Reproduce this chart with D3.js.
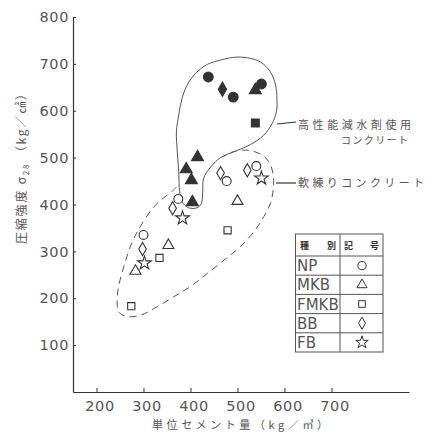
<!DOCTYPE html>
<html>
<head>
<meta charset="utf-8">
<script src="https://cdn.jsdelivr.net/npm/d3@7"></script>
<style>
  html, body { margin: 0; padding: 0; background: #fff; }
  svg { display: block; }
</style>
</head>
<body>
<svg id="chart" width="426" height="432"></svg>
<script>
// Axis ticks
const xTicks = [200, 300, 400, 500, 600, 700];
const yTicks = [100, 200, 300, 400, 500, 600, 700, 800];

// Cement types shown in the key
const types = ["NP", "MKB", "FMKB", "BB", "FB"];

// Concrete with high-range water reducer (filled marks)
const hpType     = ["NP", "BB", "NP", "MKB", "NP", "FMKB", "MKB", "MKB", "MKB", "MKB"];
const hpCement   = [438, 468, 491, 538, 551, 538, 415, 391, 402, 404];
const hpStrength = [672, 646, 629, 644, 657, 574, 501, 475, 452, 405];

// Plain (soft-mixed) concrete (open marks)
const plainType     = ["NP", "BB", "FB", "NP", "BB", "FB", "MKB", "MKB", "FMKB", "FMKB", "BB", "NP", "BB", "NP", "FB", "MKB", "FMKB"];
const plainCement   = [374, 362, 383, 300, 298, 302, 283, 353, 334, 274, 464, 477, 521, 540, 551, 500, 479];
const plainStrength = [412, 392, 371, 335, 305, 275, 258, 313, 286, 183, 467, 450, 473, 482, 456, 407, 345];

// Closed outline around the high-range water reducer group (cement, strength)
const hpOutlineCement   = [396, 414, 423, 426, 428, 443, 464, 496, 528, 556, 574, 583, 584, 581, 570, 549, 521, 492, 464, 436, 411, 393, 382, 375, 370, 372, 375, 377, 382];
const hpOutlineStrength = [393, 393, 402, 427, 456, 480, 500, 514, 528, 548, 573, 599, 626, 655, 683, 704, 713, 714, 708, 699, 680, 655, 626, 591, 555, 512, 470, 427, 406];

// Open dashed outline around the plain concrete group
const plainOutlineCement   = [370, 364, 322, 287, 272, 258, 247, 244, 247, 265, 294, 329, 364, 400, 436, 471, 506, 535, 556, 570, 576, 577, 574, 567, 553, 532, 513, 489, 468];
const plainOutlineStrength = [437, 431, 395, 342, 310, 267, 225, 196, 171, 161, 164, 182, 203, 225, 253, 281, 310, 342, 374, 402, 431, 452, 473, 491, 505, 514, 516, 512, 501];

const svg = d3.select("#chart");
const ink = "#333";
const grey = "#555";

const x = d3.scaleLinear().domain([150, 865]).range([73, 409]);
const y = d3.scaleLinear().domain([0, 800]).range([392, 17]);

const symbolOf = {
  NP: d3.symbolCircle,
  MKB: d3.symbolTriangle,
  FMKB: d3.symbolSquare,
  BB: d3.symbolDiamond,
  FB: d3.symbolStar
};
const sizeOf = { NP: 62, MKB: 52, FMKB: 52, BB: 50, FB: 58 };

// Axes
const yAxis = d3.axisLeft(y).tickValues(yTicks).tickSize(-3).tickSizeOuter(0).tickPadding(4);
const gy = svg.append("g").attr("transform", `translate(${x(150)},0)`).call(yAxis);
const xAxis = d3.axisBottom(x).tickValues(xTicks).tickSize(-4).tickSizeOuter(0).tickPadding(9);
const gx = svg.append("g").attr("transform", `translate(0,${y(0)})`).call(xAxis);

[gx, gy].forEach(g => {
  g.select(".domain").attr("stroke", ink).attr("stroke-width", 1.2);
  g.selectAll(".tick line").attr("stroke", ink).attr("stroke-width", 1);
  g.selectAll(".tick text")
    .attr("fill", grey)
    .attr("font-family", "DejaVu Sans, sans-serif")
    .attr("font-size", 14.5)
    .attr("letter-spacing", 0.6);
});
gx.selectAll(".tick text").attr("dx", 3);

// Group outlines
const outline = d3.line().x(d => x(d[0])).y(d => y(d[1]));

svg.append("path")
  .datum(d3.zip(hpOutlineCement, hpOutlineStrength))
  .attr("d", outline.curve(d3.curveCatmullRomClosed.alpha(0.5)))
  .attr("fill", "none")
  .attr("stroke", grey)
  .attr("stroke-width", 1);

svg.append("path")
  .datum(d3.zip(plainOutlineCement, plainOutlineStrength))
  .attr("d", outline.curve(d3.curveCatmullRom.alpha(0.5)))
  .attr("fill", "none")
  .attr("stroke", grey)
  .attr("stroke-width", 1)
  .attr("stroke-dasharray", "7,5");

// Points
function drawPoints(typesArr, cement, strength, filled) {
  svg.append("g").selectAll("path")
    .data(d3.range(typesArr.length))
    .join("path")
    .attr("transform", i => `translate(${x(cement[i])},${y(strength[i])})`)
    .attr("d", i => d3.symbol(symbolOf[typesArr[i]], sizeOf[typesArr[i]] * (filled ? 1.2 : 1))())
    .attr("fill", filled ? ink : "#fff")
    .attr("stroke", ink)
    .attr("stroke-width", 1.1);
}
drawPoints(plainType, plainCement, plainStrength, false);
drawPoints(hpType, hpCement, hpStrength, true);

// Callout labels
const jp = "'Noto Sans CJK JP', sans-serif";
svg.append("line").attr("x1", 277).attr("y1", 124).attr("x2", 296).attr("y2", 122)
  .attr("stroke", ink).attr("stroke-width", 1.2);
svg.append("text").attr("x", 298).attr("y", 129)
  .attr("font-family", jp).attr("font-size", 11).attr("fill", grey)
  .attr("textLength", 113).attr("lengthAdjust", "spacing")
  .text("高性能減水剤使用");
svg.append("text").attr("x", 341).attr("y", 144)
  .attr("font-family", jp).attr("font-size", 10).attr("fill", grey)
  .attr("textLength", 67).attr("lengthAdjust", "spacing")
  .text("コンクリート");

svg.append("line").attr("x1", 276).attr("y1", 183).attr("x2", 296).attr("y2", 183)
  .attr("stroke", ink).attr("stroke-width", 1.2);
svg.append("text").attr("x", 298).attr("y", 187)
  .attr("font-family", jp).attr("font-size", 11).attr("fill", grey)
  .attr("textLength", 126).attr("lengthAdjust", "spacing")
  .text("軟練りコンクリート");

// Key table
const key = svg.append("g");
const keyLeft = 295.5, keyMid = 340, keyRight = 383;
const keyTop = 234, headH = 22, rowH = 19.2;
const keyBottom = keyTop + headH + rowH * types.length;
key.append("rect").attr("x", keyLeft).attr("y", keyTop)
  .attr("width", keyRight - keyLeft).attr("height", keyBottom - keyTop)
  .attr("fill", "none").attr("stroke", grey).attr("stroke-width", 1);
key.append("line").attr("x1", keyMid).attr("x2", keyMid).attr("y1", keyTop).attr("y2", keyBottom)
  .attr("stroke", grey).attr("stroke-width", 1);
types.forEach((t, i) => {
  const top = keyTop + headH + rowH * i;
  key.append("line").attr("x1", keyLeft).attr("x2", keyRight).attr("y1", top).attr("y2", top)
    .attr("stroke", grey).attr("stroke-width", 1);
  key.append("text").attr("x", keyLeft + 1.5).attr("y", top + rowH / 2 + 5.5)
    .attr("font-family", "DejaVu Sans, sans-serif").attr("font-size", 15)
    .attr("fill", grey).text(t);
  key.append("path")
    .attr("transform", `translate(${(keyMid + keyRight) / 2 + 0.5},${top + rowH / 2})`)
    .attr("d", d3.symbol(symbolOf[t], sizeOf[t] * 0.85)())
    .attr("fill", "#fff").attr("stroke", ink).attr("stroke-width", 1);
});
key.append("text").attr("x", 300).attr("y", keyTop + 15)
  .attr("font-family", jp).attr("font-size", 9).attr("font-weight", 700).attr("fill", ink)
  .attr("textLength", 36).attr("lengthAdjust", "spacing").text("種別");
key.append("text").attr("x", 344).attr("y", keyTop + 15)
  .attr("font-family", jp).attr("font-size", 9).attr("font-weight", 700).attr("fill", ink)
  .attr("textLength", 35).attr("lengthAdjust", "spacing").text("記号");

// Axis titles
svg.append("text")
  .attr("x", 240).attr("y", 429)
  .attr("text-anchor", "middle")
  .attr("font-family", jp).attr("font-size", 11).attr("fill", grey)
  .attr("textLength", 176).attr("lengthAdjust", "spacing")
  .text("単位セメント量（kg／㎥）");

const yTitle = svg.append("text")
  .attr("transform", "translate(26,166) rotate(-90)")
  .attr("text-anchor", "middle")
  .attr("font-family", jp).attr("font-size", 12).attr("fill", grey)
  .attr("textLength", 156).attr("lengthAdjust", "spacing");
yTitle.append("tspan").text("圧縮強度 σ");
yTitle.append("tspan").attr("font-size", 8).attr("dy", 3).text("28");
yTitle.append("tspan").attr("dy", -3).text(" （kg／㎠）");
</script>
</body>
</html>
